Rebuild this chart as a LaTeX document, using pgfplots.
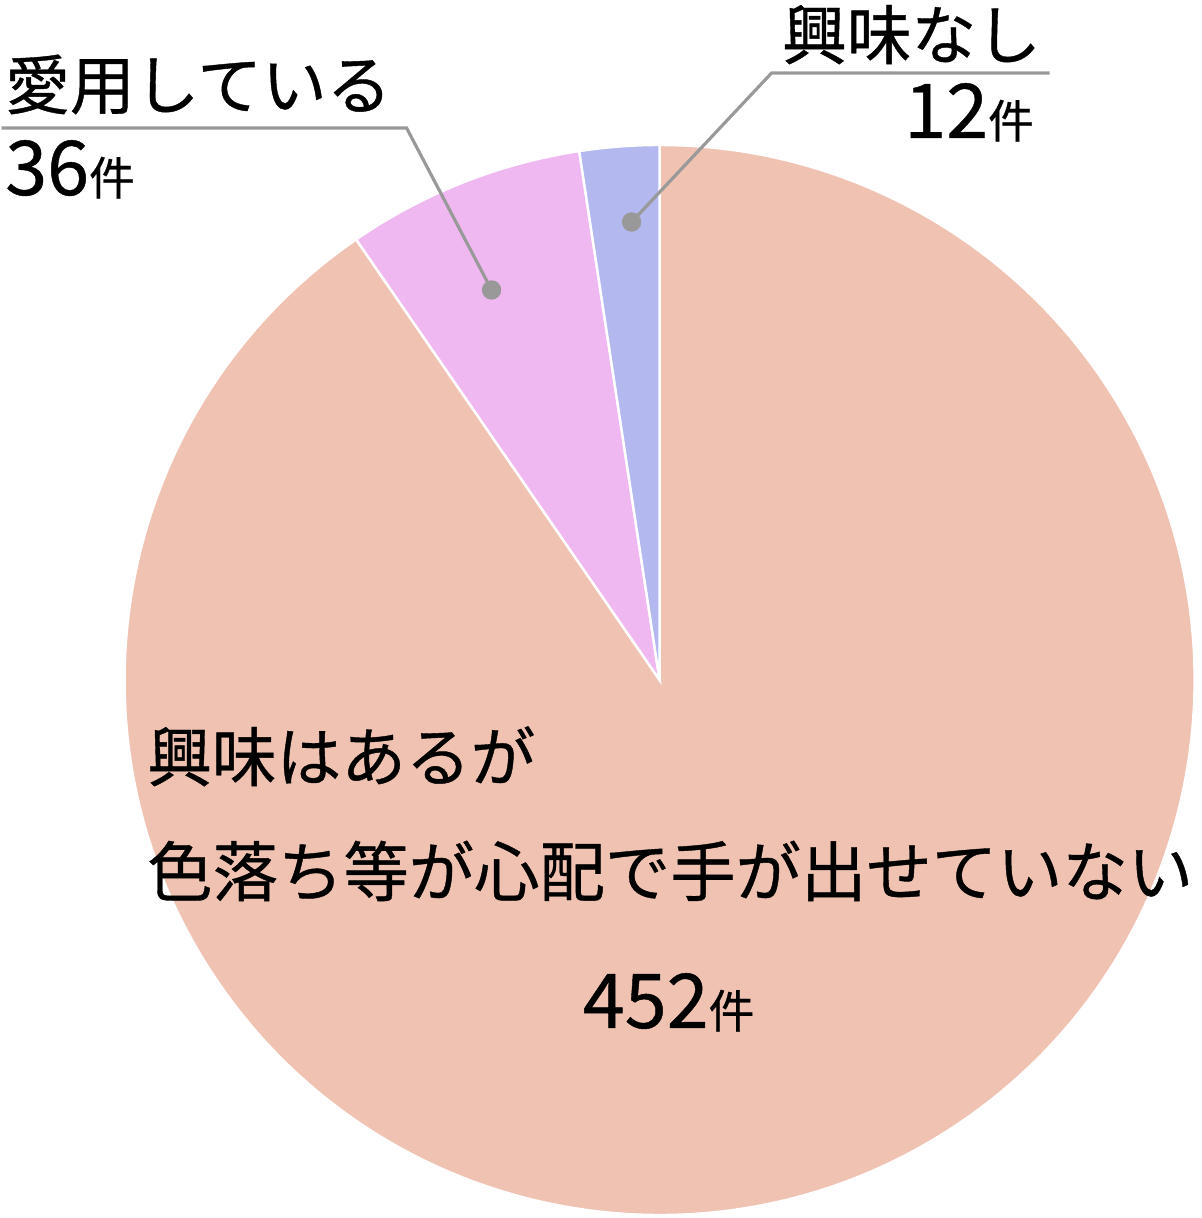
\documentclass[border=0pt]{standalone}
\usepackage{pgfplots}
\pgfplotsset{compat=1.18}
\usepackage{pgfplotstable}
\usepackage{fontspec}
\setmainfont{Noto Sans CJK JP}[FakeBold=0.6]

\definecolor{cNone}{HTML}{B3B8EF}
\definecolor{cUse}{HTML}{F0B8F0}
\definecolor{cWant}{HTML}{EFC2B2}
\definecolor{leader}{HTML}{999999}

% answers, counted anticlockwise from the top
\pgfplotstableread{
answer count
none 12
use 36
want 452
}\piedata

\pgfplotstablegetelem{0}{count}\of\piedata \let\nNone\pgfplotsretval
\pgfplotstablegetelem{1}{count}\of\piedata \let\nUse\pgfplotsretval
\pgfplotstablegetelem{2}{count}\of\piedata \let\nWant\pgfplotsretval
\pgfmathsetmacro\nTot{\nNone+\nUse+\nWant}
\pgfmathsetmacro\aA{90+360*\nNone/\nTot}
\pgfmathsetmacro\aB{\aA+360*\nUse/\nTot}

\tikzset{lab/.style={inner sep=0, font=\fontsize{18.4pt}{22pt}\selectfont}}
\newcommand\num[1]{{\fontsize{21.5pt}{25pt}\selectfont #1}{\fontsize{13pt}{15pt}\selectfont 件}}

\begin{document}
\begin{tikzpicture}
\begin{axis}[
    scale only axis,
    width=12cm, height=12.18cm,
    xmin=0, xmax=1200, ymin=-1218, ymax=0,
    hide axis, clip=false,
]
\path (axis cs:0,0) rectangle (axis cs:1200,-1218);

% --- slices (overlay: arc control points must not grow the page) ---
\fill[overlay, cWant, draw=white, line width=0.7pt] (axis cs:658,-680) -- ++(\aB:5.35cm)
    arc[start angle=\aB, end angle=450, radius=5.35cm] -- cycle;
\fill[overlay, cUse, draw=white, line width=0.7pt] (axis cs:658,-680) -- ++(\aA:5.35cm)
    arc[start angle=\aA, end angle=\aB, radius=5.35cm] -- cycle;
\fill[overlay, cNone, draw=white, line width=0.7pt] (axis cs:658,-680) -- ++(90:5.35cm)
    arc[start angle=90, end angle=\aA, radius=5.35cm] -- cycle;

% --- leader lines ---
\addplot[leader, line width=0.9pt, mark=*, mark indices={1}, mark size=2.3pt,
    mark options={fill=leader, draw=leader}]
    coordinates {(630,-222) (770,-73) (1048,-73)};
\addplot[leader, line width=0.9pt, mark=*, mark indices={1}, mark size=2.3pt,
    mark options={fill=leader, draw=leader}]
    coordinates {(490,-290) (405,-128) (0,-128)};

% --- labels ---
\node[lab, anchor=base west] at (axis cs:3,-109) {愛用している};
\node[lab, anchor=base west] at (axis cs:3,-195) {\num{36}};
\node[lab, anchor=base east] at (axis cs:1040,-59) {興味なし};
\node[lab, anchor=base east] at (axis cs:1033,-138) {\num{12}};
\node[lab, anchor=base west] at (axis cs:145,-781) {興味はあるが};
\node[lab, anchor=base west, font=\fontsize{18.6pt}{22pt}\selectfont] at (axis cs:145,-896) {色落ち等が心配で手が出せていない};
\node[lab, anchor=base] at (axis cs:667,-1028) {\num{452}};
\end{axis}
\end{tikzpicture}
\end{document}
